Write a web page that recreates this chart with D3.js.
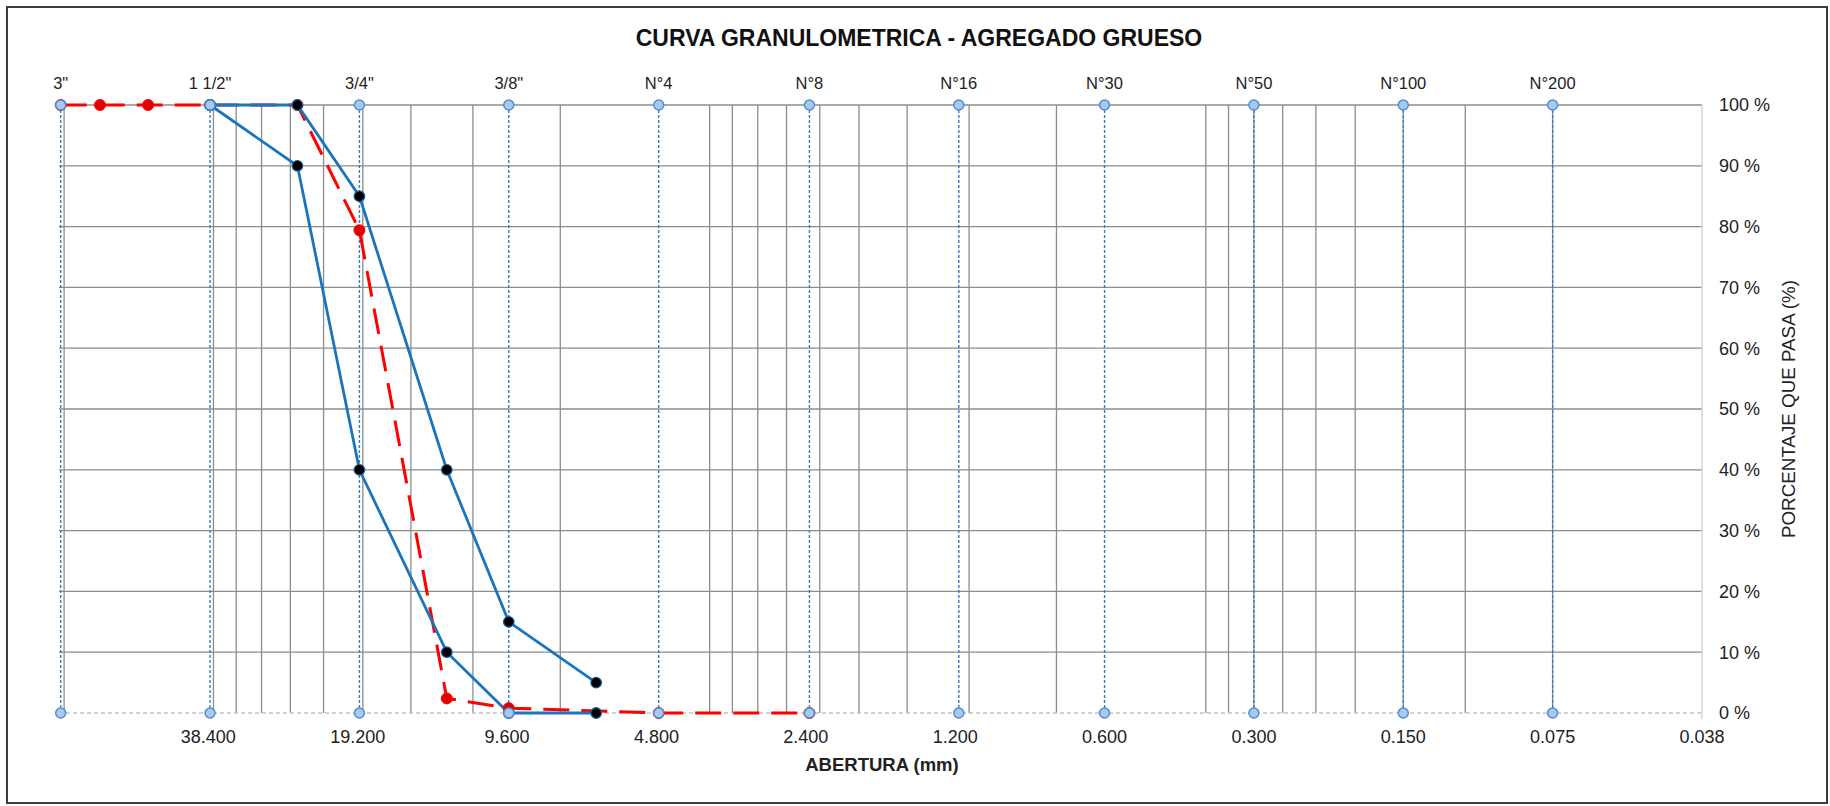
<!DOCTYPE html>
<html>
<head>
<meta charset="utf-8">
<script src="https://cdn.jsdelivr.net/npm/d3@7"></script>
<style>
  html, body { margin: 0; padding: 0; background: #fff; }
  svg { display: block; font-family: "Liberation Sans", Arial, sans-serif; }
</style>
</head>
<body>
<svg id="chart" width="1830" height="806"></svg>
<script>
// ---------- data ----------
const sieveLabels = ['3"', '1 1/2"', '3/4"', '3/8"', 'N°4', 'N°8', 'N°16', 'N°30', 'N°50', 'N°100', 'N°200'];
const sieveSizes  = [76.2, 38.1, 19.05, 9.525, 4.75, 2.36, 1.18, 0.6, 0.3, 0.15, 0.075];

const xTickValues = [38.4, 19.2, 9.6, 4.8, 2.4, 1.2, 0.6, 0.3, 0.15, 0.075, 0.0375];
const xTickLabels = ["38.400", "19.200", "9.600", "4.800", "2.400", "1.200", "0.600", "0.300", "0.150", "0.075", "0.038"];
const yTickValues = [0, 10, 20, 30, 40, 50, 60, 70, 80, 90, 100];

// sample gradation (red dashed)
const sampleSizes = [76.2, 63.5, 50.8, 38.1, 25.4, 19.05, 12.7, 9.525, 4.75, 2.36];
const samplePass  = [100, 100, 100, 100, 100, 79.4, 2.4, 0.8, 0, 0];

// specification limits (blue)
const limitSizes = [38.1, 25.4, 19.05, 12.7, 9.525, 6.35];
const upperLimit = [100, 100, 85, 40, 15, 5];
const lowerLimit = [100, 90, 40, 10, 0, 0];

// ---------- layout ----------
const svg = d3.select("#chart");
const x = d3.scaleLog().domain([76.8, 0.0375]).range([59, 1702]);
const y = d3.scaleLinear().domain([0, 100]).range([713, 105]);
const [x0, x1] = x.range();

// outer border
svg.append("rect").attr("x", 7).attr("y", 7).attr("width", 1820).attr("height", 796)
  .attr("fill", "#fff").attr("stroke", "#3c3c3c").attr("stroke-width", 2);

// minor log grid (base-10 minors anchored on the 0.0375 axis minimum)
const gridVals = [];
for (let n = 0; n <= 3; n++) for (let k = 1; k <= 9; k++) {
  const v = 0.0375 * k * Math.pow(10, n);
  if (v > 0.0376 && v < 76.8) gridVals.push(v);
}
const grid = svg.append("g");
grid.selectAll("line.v").data(gridVals).join("line")
  .attr("x1", d => x(d)).attr("x2", d => x(d))
  .attr("y1", y(100)).attr("y2", y(0))
  .attr("stroke", "#8c8c8c").attr("stroke-width", 1.3);
grid.selectAll("line.h").data(yTickValues.filter(d => d > 0)).join("line")
  .attr("x1", x0).attr("x2", x1)
  .attr("y1", d => y(d)).attr("y2", d => y(d))
  .attr("stroke", "#8c8c8c").attr("stroke-width", 1.3);

// 0% axis line (dashed light gray) and right edge
svg.append("line").attr("x1", x0).attr("x2", x1).attr("y1", y(0)).attr("y2", y(0))
  .attr("stroke", "#c4c4c4").attr("stroke-width", 1.3).attr("stroke-dasharray", "4,3");
svg.append("line").attr("x1", x1).attr("x2", x1).attr("y1", y(100)).attr("y2", y(0) + 6)
  .attr("stroke", "#d0d0d0").attr("stroke-width", 1.3);

// sieve dashed verticals
svg.append("g").selectAll("line").data(sieveSizes).join("line")
  .attr("x1", d => x(d)).attr("x2", d => x(d))
  .attr("y1", y(100)).attr("y2", y(0))
  .attr("stroke", "#2e7fc8").attr("stroke-width", 1.4).attr("stroke-dasharray", "3,2");

// sample curve (red dashed) under the limits
const sampleData = sampleSizes.map((s, i) => [s, samplePass[i]]);
const line = d3.line().x(d => x(d[0])).y(d => y(d[1]));
svg.append("path").datum(sampleData).attr("d", line)
  .attr("fill", "none").attr("stroke", "#ff0000").attr("stroke-width", 3)
  .attr("stroke-dasharray", "26,12");

// limits
const upperData = limitSizes.map((s, i) => [s, upperLimit[i]]);
const lowerData = limitSizes.map((s, i) => [s, lowerLimit[i]]);
[upperData, lowerData].forEach(dat => {
  svg.append("path").datum(dat).attr("d", line)
    .attr("fill", "none").attr("stroke", "#1b75bc").attr("stroke-width", 2.8);
});

// sample markers
svg.append("g").selectAll("circle").data(sampleData).join("circle")
  .attr("cx", d => x(d[0])).attr("cy", d => y(d[1])).attr("r", 5.5)
  .attr("fill", "#e00000").attr("stroke", "#ff0000").attr("stroke-width", 1);

// limit markers
svg.append("g").selectAll("circle").data(upperData.concat(lowerData)).join("circle")
  .attr("cx", d => x(d[0])).attr("cy", d => y(d[1])).attr("r", 5.3)
  .attr("fill", "#000").attr("stroke", "#1b5f9a").attr("stroke-width", 1.2);

// sieve markers (top and bottom)
const sieveMarks = sieveSizes.flatMap(s => [[s, 100], [s, 0]]);
svg.append("g").selectAll("circle").data(sieveMarks).join("circle")
  .attr("cx", d => x(d[0])).attr("cy", d => y(d[1])).attr("r", 5)
  .attr("fill", "#a9c8ec").attr("stroke", "#4f8fd6").attr("stroke-width", 1.5);

// sieve names on top
svg.append("g").selectAll("text").data(sieveSizes).join("text")
  .attr("x", d => x(d)).attr("y", 89)
  .attr("text-anchor", "middle").attr("font-size", 16.5).attr("fill", "#222")
  .text((d, i) => sieveLabels[i]);

// bottom axis labels
svg.append("g").selectAll("text").data(xTickValues).join("text")
  .attr("x", d => x(d)).attr("y", 743)
  .attr("text-anchor", "middle").attr("font-size", 18).attr("fill", "#222")
  .text((d, i) => xTickLabels[i]);

// right axis labels
svg.append("g").selectAll("text").data(yTickValues).join("text")
  .attr("x", 1719).attr("y", d => y(d)).attr("dy", "0.35em")
  .attr("text-anchor", "start").attr("font-size", 18).attr("fill", "#222")
  .text(d => d + " %");

// titles
svg.append("text").attr("x", 919).attr("y", 46).attr("text-anchor", "middle")
  .attr("font-size", 23).attr("font-weight", "bold").attr("fill", "#111")
  .text("CURVA GRANULOMETRICA - AGREGADO GRUESO");
svg.append("text").attr("x", 882).attr("y", 771).attr("text-anchor", "middle")
  .attr("font-size", 18.5).attr("font-weight", "bold").attr("fill", "#222")
  .text("ABERTURA (mm)");
svg.append("text").attr("transform", "translate(1788,409) rotate(-90)")
  .attr("text-anchor", "middle").attr("dy", "0.35em")
  .attr("font-size", 18.8).attr("fill", "#222")
  .text("PORCENTAJE QUE PASA (%)");
</script>
</body>
</html>
